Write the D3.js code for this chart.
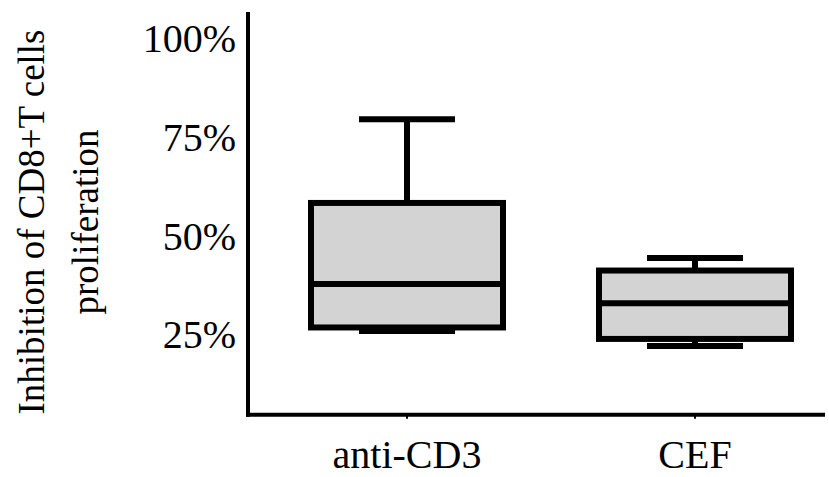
<!DOCTYPE html>
<html><head><meta charset="utf-8">
<script src="https://cdn.jsdelivr.net/npm/d3@7"></script>
<style>body{margin:0;background:#fff}svg{display:block}text{font-family:"Liberation Serif","Times New Roman",serif;fill:#000}</style>
</head><body><svg id="c" width="829" height="477"></svg>
<script>
const categories = ["anti-CD3", "CEF"];
const whiskerLow  = [26.0, 22.2];
const q1          = [26.9, 24.0];
const median      = [37.9, 33.0];
const q3          = [58.4, 41.3];
const whiskerHigh = [79.6, 44.5];
const yTicks = [25, 50, 75, 100];
const yTickLabels = ["25%", "50%", "75%", "100%"];
const axisExtent = [4.8, 106.7];
const yTitle = ["Inhibition of CD8+T cells", "proliferation"];

const svg = d3.select("#c");
const y = d3.scaleLinear().domain([0, 100]).range([433.8, 38.5]);
const x = d3.scaleBand().domain(categories).range([263, 839]).padding(0);
const axisX = 248, axisRight = 825;
const boxW = x.bandwidth() * 2 / 3, capW = boxW / 2;

// axes lines
svg.append("line").attr("x1", axisX).attr("x2", axisX)
  .attr("y1", y(axisExtent[1])).attr("y2", y(axisExtent[0]) + 2)
  .attr("stroke", "#000").attr("stroke-width", 4);
svg.append("line").attr("x1", axisX - 2).attr("x2", axisRight)
  .attr("y1", y(axisExtent[0])).attr("y2", y(axisExtent[0]))
  .attr("stroke", "#000").attr("stroke-width", 4);

// y tick labels
svg.selectAll(".yt").data(yTicks).join("text").attr("class", "yt")
  .attr("x", axisX - 12).attr("y", d => y(d))
  .attr("text-anchor", "end").attr("dominant-baseline", "central")
  .attr("font-size", 40).text((d, i) => yTickLabels[i]);

// x ticks and labels
categories.forEach(c => {
  const cx = x(c) + x.bandwidth() / 2;
  svg.append("line").attr("x1", cx).attr("x2", cx)
    .attr("y1", y(axisExtent[0])).attr("y2", y(axisExtent[0]) + 4)
    .attr("stroke", "#000").attr("stroke-width", 2);
  svg.append("text").attr("x", cx).attr("y", 468).attr("text-anchor", "middle")
    .attr("font-size", 40).text(c);
});

// boxes
categories.forEach((c, i) => {
  const cx = x(c) + x.bandwidth() / 2;
  const g = svg.append("g");
  const sw = 6;
  g.append("line").attr("x1", cx).attr("x2", cx).attr("y1", y(whiskerHigh[i])).attr("y2", y(q3[i]))
    .attr("stroke", "#000").attr("stroke-width", sw);
  g.append("line").attr("x1", cx).attr("x2", cx).attr("y1", y(q1[i])).attr("y2", y(whiskerLow[i]))
    .attr("stroke", "#000").attr("stroke-width", sw);
  g.append("line").attr("x1", cx - capW / 2).attr("x2", cx + capW / 2)
    .attr("y1", y(whiskerHigh[i])).attr("y2", y(whiskerHigh[i])).attr("stroke", "#000").attr("stroke-width", sw);
  g.append("line").attr("x1", cx - capW / 2).attr("x2", cx + capW / 2)
    .attr("y1", y(whiskerLow[i])).attr("y2", y(whiskerLow[i])).attr("stroke", "#000").attr("stroke-width", sw);
  g.append("rect").attr("x", cx - boxW / 2).attr("width", boxW)
    .attr("y", y(q3[i])).attr("height", y(q1[i]) - y(q3[i]))
    .attr("fill", "#d3d3d3").attr("stroke", "#000").attr("stroke-width", sw);
  g.append("line").attr("x1", cx - boxW / 2).attr("x2", cx + boxW / 2)
    .attr("y1", y(median[i])).attr("y2", y(median[i])).attr("stroke", "#000").attr("stroke-width", sw);
});

// y title
const t = svg.append("text").attr("transform", "translate(44,222) rotate(-90)")
  .attr("text-anchor", "middle").attr("font-size", 37);
t.append("tspan").attr("x", 0).attr("y", 0).text(yTitle[0]);
t.append("tspan").attr("x", 0).attr("y", 54).text(yTitle[1]);
</script></body></html>
